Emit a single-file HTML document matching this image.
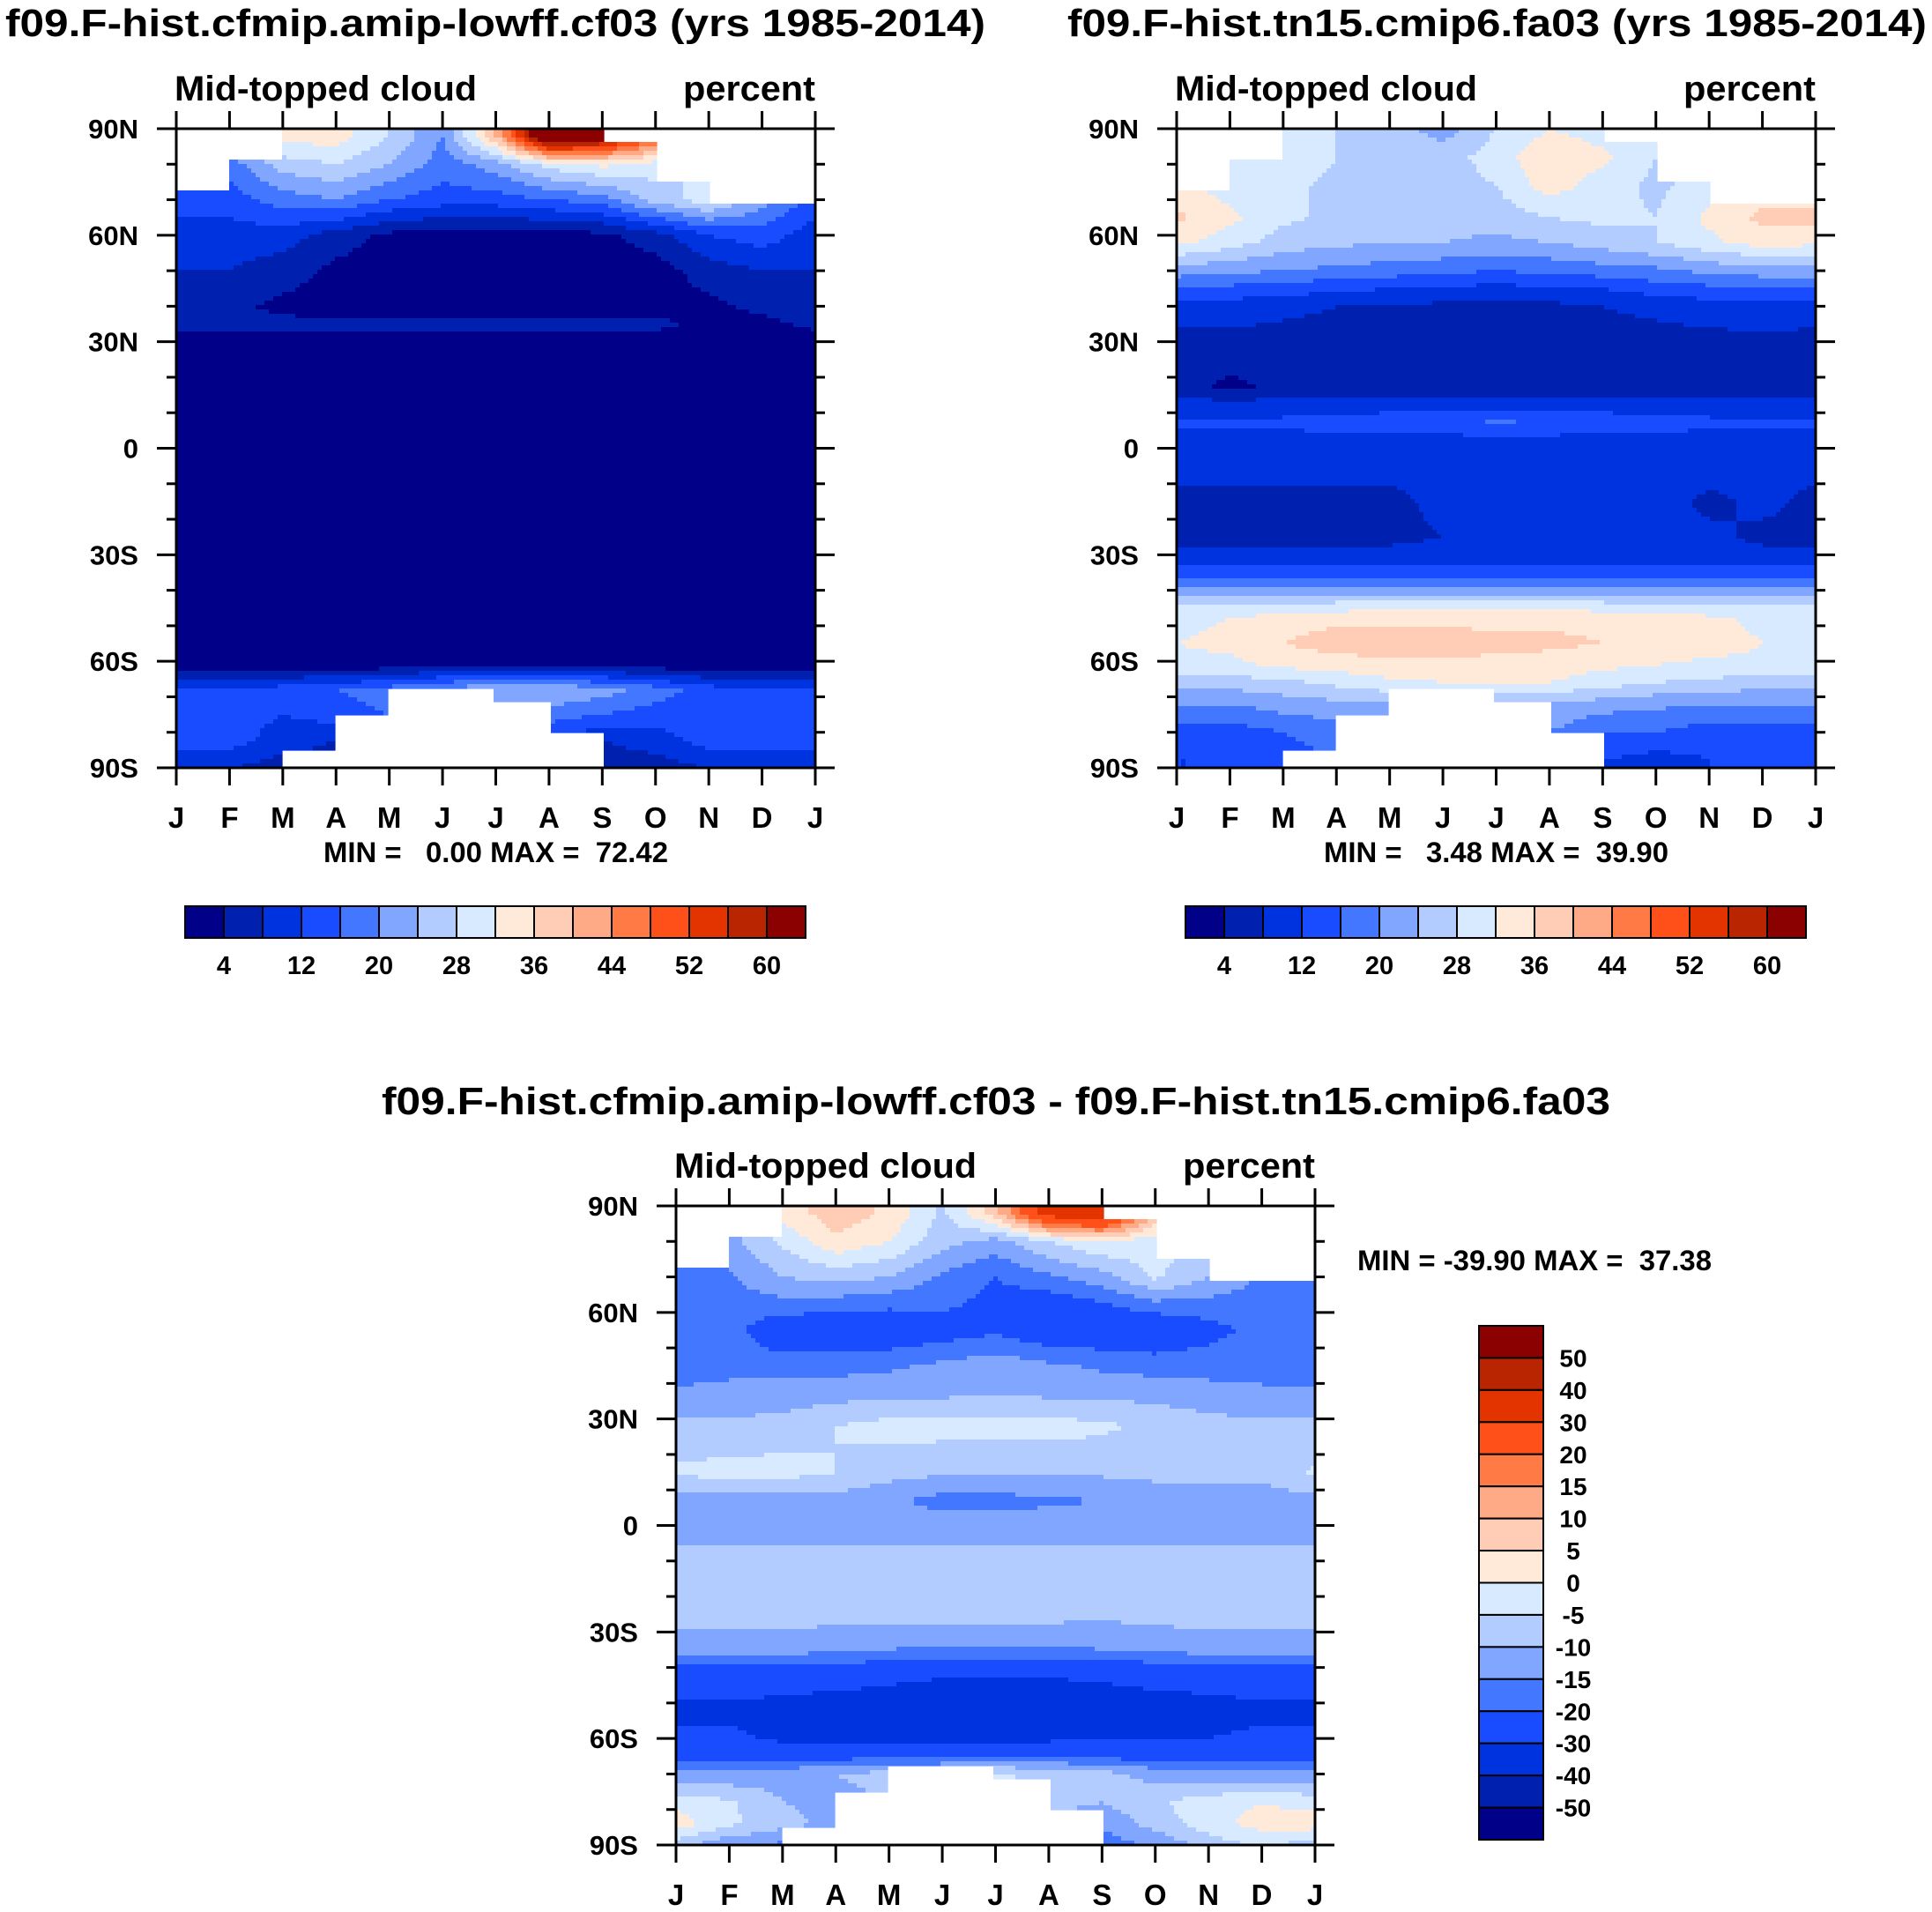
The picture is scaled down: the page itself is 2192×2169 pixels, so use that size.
<!DOCTYPE html>
<html><head><meta charset="utf-8"><style>
html,body{margin:0;padding:0;background:#fff;}
svg{display:block;font-family:"Liberation Sans",sans-serif;font-weight:bold;}
text{white-space:pre;}
</style></head><body>
<svg id="fig" width="2192" height="2169" viewBox="0 0 2192 2169" xmlns="http://www.w3.org/2000/svg">
<rect width="2192" height="2169" fill="#fff"/>
</svg>
<script>
// ---------- data ----------
const months = ["J","F","M","A","M","J","J","A","S","O","N","D","J"];
const latTicks = [90,60,30,0,-30,-60,-90];
const latTickLabels = ["90N","60N","30N","0","30S","60S","90S"];
const absLevels = [4,8,12,16,20,24,28,32,36,40,44,48,52,56,60];
const absTickLabels = ["4","12","20","28","36","44","52","60"];
const diffLevels = [-50,-40,-30,-20,-15,-10,-5,0,5,10,15,20,30,40,50];
const diffTickLabels = ["-50","-40","-30","-20","-15","-10","-5","0","5","10","15","20","30","40","50"];
const palette = ["#000088","#0020b0","#0033e0","#1a4cff","#4477ff","#80a6ff","#b3ccff","#d7eaff","#ffeada","#ffcdb5","#ffaa86","#ff7a45","#ff5019","#e33400","#b82500","#8b0000"];
// missing-data mask per month (Jan..Dec): valid lat range
const maskNorth = [72,81.5,90,90,90,90,90,90,86,75,68.5,68.5];
const maskSouth = [-90,-90,-85.3,-75,-67.5,-67.5,-71,-80.6,-90,-90,-90,-90];

// Panel 1: cf03
const lats1 = [88,80,70,60,50,40,35,30,0,-60,-62,-68,-75,-82,-90];
const vals1 = [
 [22,22,34,34,28,20,40,72,65,50,30,24,22],
 [18,18,26,28,24,18,22,30,33,30,26,22,18],
 [14,14,18,20,16,14,14,16,18,26,30,22,14],
 [10,10,10,6,3,2,2,2,3,6,12,14,10],
 [8,8,6,3,2,2,2,2,2,2,6,8,8],
 [5,5,3,2,2,2,2,2,2,2,3,5,5],
 [5,5,5,5,5,5,5,5,5,5,3,3,5],
 [2,2,2,2,2,2,2,2,2,2,2,2,2],
 [1,1,1,1,1,1,1,1,1,1,1,1,1],
 [1,1,1,1,1,1,1,1,1,1,1,1,1],
 [2,2,3,3,4,5,5,5,5,4,3,2,2],
 [12,12,14,16,18,22,24,24,22,18,14,12,12],
 [14,14,12,14,16,18,18,18,16,14,14,14,14],
 [14,14,10,8,10,12,12,12,8,10,14,14,14],
 [8,8,6,6,8,8,8,8,6,6,8,8,8]
];
// Panel 2: fa03
const lats2 = [90,82,74,65,58,50,45,40,28,17,12,7,2,-5,-15,-25,-32,-38,-44,-48,-55,-61,-66,-72,-80,-88];
const vals2 = [
 [30,30,30,28,26,22,28,32,30,28,28,30,30],
 [30,30,31,28,27,26,30,35,33,28,26,30,30],
 [33,30,29,27,26,26,28,34,30,27,30,34,33],
 [37,33,29,27,26,26,26,28,29,28,33,37,37],
 [33,30,26,25,24,24,23,24,26,28,31,34,33],
 [22,21,20,19,18,17,16,17,18,19,21,22,22],
 [16,15,14,13,12,11,11,11,12,14,15,16,16],
 [10,10,9,8,8,7,7,7,8,9,10,11,10],
 [6,6,6,6,6,6,6,6,6,6,6,6,6],
 [6,3,5,6,6,6,6,6,6,6,6,6,6],
 [10,10,10,10,10,10,10,10,10,10,10,10,10],
 [13,13,13,14,15,15,17,16,15,14,13,13,13],
 [10,10,10,10,10,10,10,10,10,10,10,10,10],
 [9,9,9,9,9,10,10,10,10,10,10,9,9],
 [7,7,7,7,7,9,10,9,9,10,7,9,7],
 [7,7,7,7,7,8,9,9,9,9,9,7,7],
 [10,10,10,10,10,10,10,10,10,10,10,10,10],
 [18,18,18,18,18,18,18,18,18,18,18,18,18],
 [28,28,29,29,30,30,30,30,29,29,28,28,28],
 [31,32,34,35,35,35,35,35,35,34,33,31,31],
 [32,33,36,38,38,38,37,37,36,35,34,32,32],
 [31,31,33,34,35,35,35,34,33,32,31,31,31],
 [26,26,27,29,31,32,33,32,30,28,27,26,26],
 [20,20,22,23,24,26,24,24,22,21,20,20,20],
 [14,14,16,18,18,20,20,20,16,16,14,14,14],
 [12,12,14,16,16,16,16,16,12,10,12,14,12]
];
// Panel 3: difference
const lats3 = [88,80,70,62,55,45,37,28,15,7,0,-10,-25,-35,-43,-52,-60,-65,-70,-78,-84,-90];
const vals3 = [
 [-10,-10,2,8,4,-6,8,35,40,10,0,-5,-10],
 [-12,-12,-4,4,0,-8,-12,-5,0,-3,-6,-10,-12],
 [-18,-16,-10,-8,-10,-16,-20,-16,-12,-4,-10,-16,-18],
 [-17,-17,-17,-18,-19,-19,-22,-24,-21,-17,-17,-17,-17],
 [-18,-18,-25,-25,-25,-23,-21,-25,-25,-26,-22,-18,-18],
 [-18,-17,-17,-17,-16,-14,-12,-14,-16,-17,-17,-17,-18],
 [-14,-13,-13,-12,-11,-11,-10,-11,-11,-12,-13,-14,-14],
 [-9,-9,-8,-5,-3,-3,-3,-3,-4,-6,-8,-9,-9],
 [-4,-3,-3,-5,-8,-9,-9,-9,-9,-9,-9,-9,-4],
 [-12,-12,-12,-12,-14,-17,-17,-16,-15,-12,-12,-12,-12],
 [-13,-13,-13,-13,-12,-12,-12,-12,-12,-12,-13,-13,-13],
 [-8,-8,-8,-8,-8,-8,-8,-8,-8,-8,-8,-8,-8],
 [-8,-8,-8,-8,-8,-8,-8,-8,-9,-8,-8,-8,-8],
 [-13,-13,-13,-14,-15,-16,-16,-16,-15,-14,-13,-13,-13],
 [-25,-25,-25,-26,-28,-30,-30,-30,-29,-27,-26,-25,-25],
 [-32,-32,-34,-36,-37,-38,-38,-37,-36,-35,-34,-32,-32],
 [-28,-28,-32,-32,-32,-32,-33,-32,-31,-30,-30,-28,-28],
 [-22,-22,-22,-22,-22,-21,-20,-20,-22,-22,-22,-22,-22],
 [-14,-14,-12,-10,-8,-6,-4,-6,-8,-12,-14,-14,-14],
 [-2,-4,-10,-12,-10,-8,-8,-8,-10,-6,-2,0,-2],
 [3,-4,-8,-12,-14,-14,-12,-12,-14,-8,-2,2,3],
 [-8,-14,-16,-16,-16,-16,-16,-16,-18,-14,-8,-4,-8]
];

// ---------- drawing ----------
const NS = "http://www.w3.org/2000/svg";
const svg = document.getElementById('fig');
function mk(tag, attrs, parent){
  const e = document.createElementNS(NS, tag);
  for (const k in attrs) e.setAttribute(k, attrs[k]);
  (parent||svg).appendChild(e);
  return e;
}
function txt(str, x, y, size, anchor, parent, len){
  const t = mk('text', {x:x, y:y, 'font-size':size, 'text-anchor':anchor||'start', fill:'#000'}, parent);
  t.setAttributeNS("http://www.w3.org/XML/1998/namespace", "xml:space", "preserve");
  if (len){ t.setAttribute('textLength', len); t.setAttribute('lengthAdjust','spacingAndGlyphs'); }
  t.textContent = str;
  return t;
}
function sample(lats, vals, m, lat){
  let i = 0;
  if (lat >= lats[0]) { i = 0; lat = lats[0]; }
  else if (lat <= lats[lats.length-1]) { i = lats.length-2; lat = lats[lats.length-1]; }
  else { while (!(lat <= lats[i] && lat >= lats[i+1])) i++; }
  const t = (lats[i]-lat)/(lats[i]-lats[i+1]);
  const j = Math.min(11, Math.floor(m)); const s = m - j;
  const a = vals[i][j]*(1-s)+vals[i][j+1]*s;
  const b = vals[i+1][j]*(1-s)+vals[i+1][j+1]*s;
  return a*(1-t)+b*t;
}
function levelIndex(v, levels){ let k=0; while(k<levels.length && v>=levels[k]) k++; return k; }

function panel(opt){
  const g = mk('g', {});  
  const X0=opt.x, Y0=opt.y, W=725, H=725;
  const xScale = m => X0 + m/12*W;
  const yScale = lat => Y0 + (90-lat)/180*H;
  const field = mk('g', {}, g);
  
  
  const cell = 5, nc = W/cell, nr = H/cell;
  for (let r=0; r<nr; r++){
    const lat = 90 - (r+0.5)*cell/H*180;
    let runStart=-1, runCol=null;
    const flush = (endc)=>{
      if (runStart>=0 && runCol!==null){
        const rc = mk('rect', {x:X0+runStart*cell, y:Y0+r*cell, width:(endc-runStart)*cell+0.6, height:cell+0.6, fill:runCol}, field);
        
        
      }
    };
    for (let c=0; c<nc; c++){
      const m = (c+0.5)*cell/W*12;
      const mi = Math.min(11, Math.floor(m));
      let col = null;
      if (lat <= maskNorth[mi] && lat >= maskSouth[mi]){
        col = palette[levelIndex(sample(opt.lats, opt.vals, m, lat), opt.levels)];
      }
      if (col !== runCol){ flush(c); runStart = c; runCol = col; }
    }
    flush(nc);
  }
  const fr = mk('rect', {x:X0, y:Y0, width:W, height:H, fill:'none', stroke:'#000', 'stroke-width':3}, g);
   
  for (let lat=-90; lat<=90; lat+=10){
    const y = yScale(lat), major = lat%30===0, L = major?22:11;
    mk('line', {x1:X0-L, y1:y, x2:X0, y2:y, stroke:'#000','stroke-width':3}, g);
    mk('line', {x1:X0+W, y1:y, x2:X0+W+L, y2:y, stroke:'#000','stroke-width':3}, g);
  }
  latTicks.forEach((lat,k)=>{
    const t = txt(latTickLabels[k], X0-43, yScale(lat)+11, 31, 'end', g);
     
  });
  months.forEach((mo,k)=>{
    const x = xScale(k);
    mk('line', {x1:x, y1:Y0-20, x2:x, y2:Y0, stroke:'#000','stroke-width':3}, g);
    mk('line', {x1:x, y1:Y0+H, x2:x, y2:Y0+H+20, stroke:'#000','stroke-width':3}, g);
    const t = txt(mo, x, Y0+H+68, 33, 'middle', g);
     
  });
  const st = txt('Mid-topped cloud', X0-2, Y0-32, 40, 'start', g, 343);
   
  const un = txt('percent', X0+W, Y0-32, 40, 'end', g, 150);
   
  const tt = txt(opt.title, opt.tx, opt.ty, 44, 'start', g, opt.tlen);
   
  const mm = txt(opt.minmax, opt.mx, opt.my, 32, 'start', g, opt.mlen);
   
}

function hbar(x0, y0, name){
  const g = mk('g', {});  
  const bw = 704/16;
  palette.forEach((c,k)=>{
    const r = mk('rect', {x:x0+k*bw, y:y0, width:bw, height:36, fill:c, stroke:'#000','stroke-width':2}, g);
     
  });
  absTickLabels.forEach((lb,k)=>{
    const t = txt(lb, x0+(2*k+1)*bw, y0+77, 29, 'middle', g);
     
  });
}
function vbar(x0, y0, name){
  const g = mk('g', {});  
  const bh = 583/16;
  palette.slice().reverse().forEach((c,k)=>{
    const r = mk('rect', {x:x0, y:y0+k*bh, width:73, height:bh, fill:c, stroke:'#000','stroke-width':2}, g);
     
  });
  diffTickLabels.slice().reverse().forEach((lb,k)=>{
    const t = txt(lb, x0+107, y0+(k+1)*bh+10, 28, 'middle', g);
     
  });
}

panel({name:'panel-cf03', x:200, y:146, lats:lats1, vals:vals1, levels:absLevels,
  title:'f09.F-hist.cfmip.amip-lowff.cf03 (yrs 1985-2014)', tx:6, ty:41, tlen:1112,
  minmax:'MIN =   0.00 MAX =  72.42', mx:367, my:978, mlen:391});
panel({name:'panel-fa03', x:1335, y:146, lats:lats2, vals:vals2, levels:absLevels,
  title:'f09.F-hist.tn15.cmip6.fa03 (yrs 1985-2014)', tx:1211, ty:41, tlen:975,
  minmax:'MIN =   3.48 MAX =  39.90', mx:1502, my:978, mlen:391});
panel({name:'panel-difference', x:767, y:1368, lats:lats3, vals:vals3, levels:diffLevels,
  title:'f09.F-hist.cfmip.amip-lowff.cf03 - f09.F-hist.tn15.cmip6.fa03', tx:433, ty:1264, tlen:1394,
  minmax:'MIN = -39.90 MAX =  37.38', mx:1540, my:1441, mlen:402});
hbar(210, 1028, 'colorbar-cf03');
hbar(1345, 1028, 'colorbar-fa03');
vbar(1678, 1504, 'colorbar-difference');
</script>
</body></html>
